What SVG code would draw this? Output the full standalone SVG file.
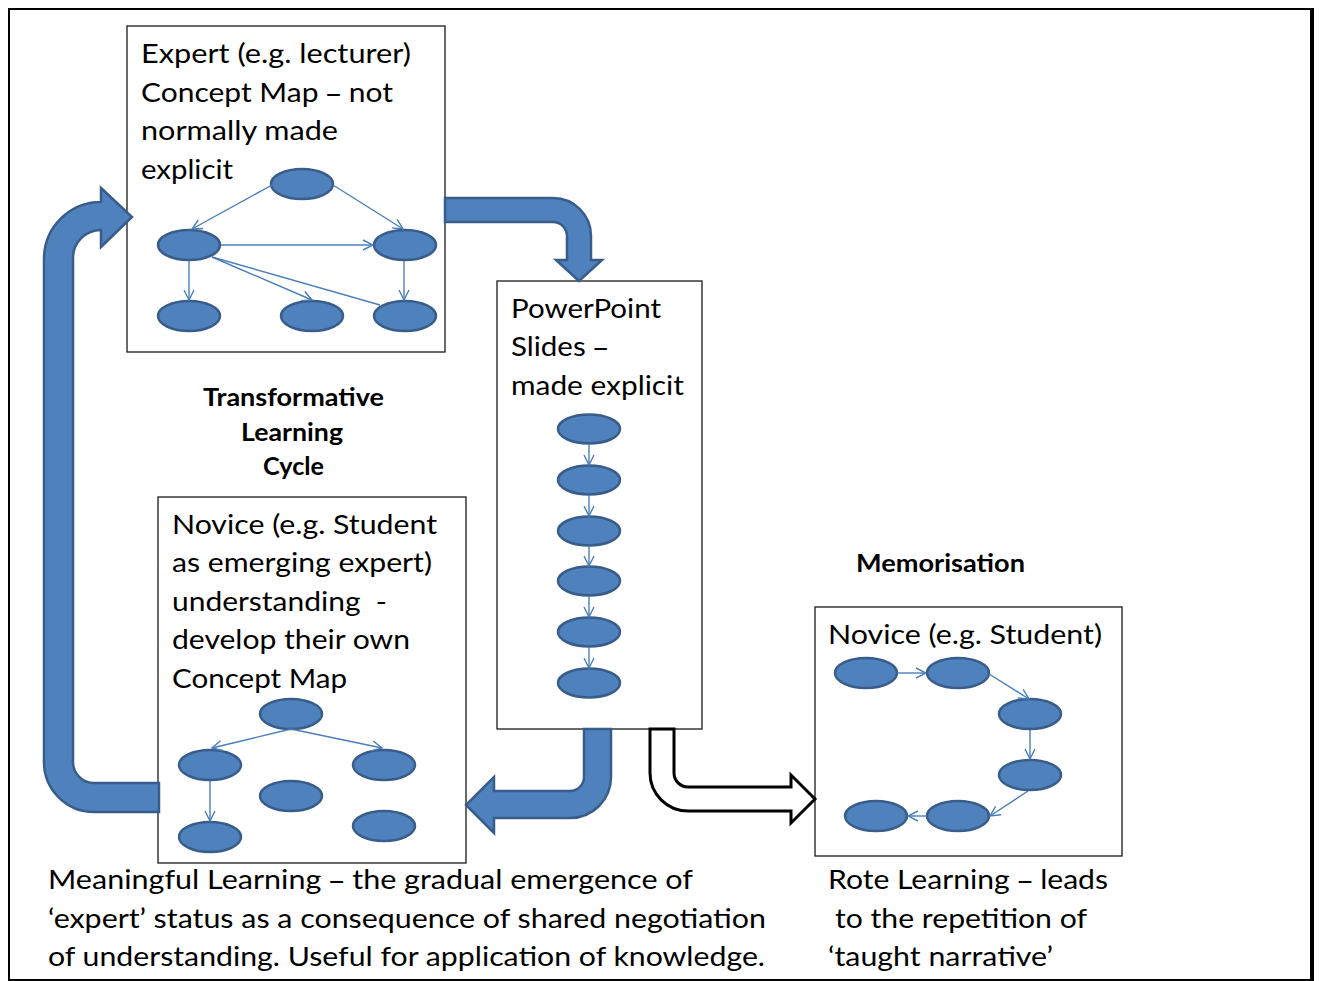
<svg xmlns="http://www.w3.org/2000/svg" width="1319" height="981" viewBox="0 0 1319 981">
<style>
.t{font-family:Lato,"Liberation Sans",sans-serif;font-size:27.5px;fill:#000;}
.b{font-family:Lato,"Liberation Sans",sans-serif;font-size:24px;font-weight:bold;fill:#000;}
.d{font-family:"Open Sans","Liberation Sans",sans-serif;}
.box{fill:#fff;stroke:#1a1a1a;stroke-width:1.3;}
.el{fill:#4F81BD;stroke:#385D8A;stroke-width:2.5;}
.ln{fill:none;stroke:#4A7EBB;stroke-width:1.4;marker-end:url(#v);}
.ln0{fill:none;stroke:#4A7EBB;stroke-width:1.4;}
.big{fill:#4F81BD;stroke:#385D8A;stroke-width:2.5;stroke-linejoin:miter;}
.wht{fill:#fff;stroke:#000;stroke-width:3;stroke-linejoin:miter;}
</style>
<defs>
<marker id="v" viewBox="0 0 12 12" refX="11" refY="6" markerWidth="12" markerHeight="12" markerUnits="userSpaceOnUse" orient="auto">
<path d="M1,1 L11,6 L1,11" fill="none" stroke="#4A7EBB" stroke-width="1.4"/>
</marker>
</defs>
<rect width="1319" height="981" fill="#fff"/>
<g id="frame" stroke="#000" fill="none">
<line x1="8" y1="9" x2="1314" y2="9" stroke-width="2"/>
<line x1="9" y1="8" x2="9" y2="981" stroke-width="2"/>
<line x1="1312" y1="8" x2="1312" y2="981" stroke-width="4"/>
<line x1="8" y1="980" x2="1314" y2="980" stroke-width="2"/>
</g>

<g id="expert">
<rect class="box" x="127" y="26" width="318" height="326"/>
<text class="t" x="141" y="63" textLength="270" lengthAdjust="spacingAndGlyphs">Expert (e.g. lecturer)</text>
<text class="t" x="141" y="102" textLength="252" lengthAdjust="spacingAndGlyphs">Concept Map <tspan class="d">–</tspan> not</text>
<text class="t" x="141" y="140" textLength="197" lengthAdjust="spacingAndGlyphs">normally made</text>
<text class="t" x="141" y="179" textLength="92" lengthAdjust="spacingAndGlyphs">explicit</text>
<ellipse class="el" cx="302" cy="184" rx="31" ry="15"/>
<ellipse class="el" cx="189" cy="245" rx="31" ry="15"/>
<ellipse class="el" cx="405" cy="245" rx="31" ry="15"/>
<ellipse class="el" cx="189" cy="316" rx="31" ry="15"/>
<ellipse class="el" cx="312" cy="316" rx="31" ry="15"/>
<ellipse class="el" cx="405" cy="316" rx="31" ry="15"/>
</g>

<g id="powerpoint">
<rect class="box" x="497" y="281" width="205" height="448"/>
<text class="t" x="511" y="318" textLength="150" lengthAdjust="spacingAndGlyphs">PowerPoint</text>
<text class="t" x="511" y="356" textLength="97" lengthAdjust="spacingAndGlyphs">Slides <tspan class="d">–</tspan></text>
<text class="t" x="511" y="395" textLength="173" lengthAdjust="spacingAndGlyphs">made explicit</text>
<ellipse class="el" cx="589" cy="429" rx="31" ry="14.5"/>
<ellipse class="el" cx="589" cy="480" rx="31" ry="14.5"/>
<ellipse class="el" cx="589" cy="531" rx="31" ry="14.5"/>
<ellipse class="el" cx="589" cy="581" rx="31" ry="14.5"/>
<ellipse class="el" cx="589" cy="632" rx="31" ry="14.5"/>
<ellipse class="el" cx="589" cy="683" rx="31" ry="14.5"/>
</g>

<g id="novice-emerging">
<rect class="box" x="158" y="497" width="308" height="366"/>
<text class="t" x="172" y="534" textLength="265" lengthAdjust="spacingAndGlyphs">Novice (e.g. Student</text>
<text class="t" x="172" y="572" textLength="260" lengthAdjust="spacingAndGlyphs">as emerging expert)</text>
<text class="t" x="172" y="611" textLength="215" lengthAdjust="spacingAndGlyphs" style="white-space:pre">understanding  -</text>
<text class="t" x="172" y="649" textLength="238" lengthAdjust="spacingAndGlyphs">develop their own</text>
<text class="t" x="172" y="688" textLength="175" lengthAdjust="spacingAndGlyphs">Concept Map</text>
<ellipse class="el" cx="291" cy="714" rx="31" ry="15"/>
<ellipse class="el" cx="210" cy="765" rx="31" ry="15"/>
<ellipse class="el" cx="384" cy="765" rx="31" ry="15"/>
<ellipse class="el" cx="291" cy="796" rx="31" ry="15"/>
<ellipse class="el" cx="210" cy="837" rx="31" ry="15"/>
<ellipse class="el" cx="384" cy="826" rx="31" ry="15"/>
</g>

<g id="novice-rote">
<rect class="box" x="815" y="607" width="307" height="249"/>
<text class="t" x="828" y="644" textLength="274" lengthAdjust="spacingAndGlyphs">Novice (e.g. Student)</text>
<ellipse class="el" cx="866" cy="673" rx="31" ry="15"/>
<ellipse class="el" cx="958" cy="673" rx="31" ry="15"/>
<ellipse class="el" cx="1030" cy="714" rx="31" ry="15"/>
<ellipse class="el" cx="1030" cy="775" rx="31" ry="15"/>
<ellipse class="el" cx="958" cy="816" rx="31" ry="15"/>
<ellipse class="el" cx="876" cy="816" rx="31" ry="15"/>
</g>

<g id="labels">
<text class="b" x="203" y="406" textLength="181" lengthAdjust="spacingAndGlyphs">Transformative</text>
<text class="b" x="241" y="441" textLength="102" lengthAdjust="spacingAndGlyphs">Learning</text>
<text class="b" x="263" y="475" textLength="61" lengthAdjust="spacingAndGlyphs">Cycle</text>
<text class="b" x="856" y="572" textLength="169" lengthAdjust="spacingAndGlyphs">Memorisation</text>
<text class="t" x="48" y="889" textLength="645" lengthAdjust="spacingAndGlyphs">Meaningful Learning <tspan class="d">–</tspan> the gradual emergence of</text>
<text class="t" x="48" y="928" textLength="718" lengthAdjust="spacingAndGlyphs">‘expert’ status as a consequence of shared negotiation</text>
<text class="t" x="48" y="966" textLength="717" lengthAdjust="spacingAndGlyphs">of understanding. Useful for application of knowledge.</text>
<text class="t" x="828" y="889" textLength="280" lengthAdjust="spacingAndGlyphs">Rote Learning <tspan class="d">–</tspan> leads</text>
<text class="t" x="835" y="928" textLength="252" lengthAdjust="spacingAndGlyphs">to the repetition of</text>
<text class="t" x="828" y="966" textLength="225" lengthAdjust="spacingAndGlyphs">‘taught narrative’</text>
</g>

<g id="connectors">
<path class="big" d="M159,783 L94,783 A21,21 0 0 1 73,762 L73,258 A28,28 0 0 1 101,230 L101,247 L132,217 L101,188 L101,202 A57,57 0 0 0 44,259 L44,762 A50,50 0 0 0 94,812 L159,812 Z"/>
<path class="big" d="M445,198 L553,198 A38,38 0 0 1 591,236 L591,260 L602,260 L579,281 L556,260 L567,260 L567,236 A14,14 0 0 0 553,222 L445,222 Z"/>
<path class="big" d="M584,729 L584,777 A14,14 0 0 1 570,791 L494,791 L494,777 L466,805 L494,833 L494,818 L570,818 A41,41 0 0 0 611,777 L611,729 Z"/>
<path class="wht" d="M650,729 L650,773 A38,38 0 0 0 688,811 L791,811 L791,823 L815,799 L791,775 L791,787 L688,787 A14,14 0 0 1 674,773 L674,729 Z"/>

<line class="ln" x1="272" y1="185" x2="192" y2="229"/>
<line class="ln" x1="333" y1="185" x2="403" y2="229"/>
<line class="ln" x1="221" y1="245" x2="373" y2="245"/>
<line class="ln" x1="189" y1="261" x2="189" y2="300"/>
<line class="ln" x1="404" y1="261" x2="404" y2="300"/>
<line class="ln" x1="212" y1="257" x2="312" y2="300"/>
<line class="ln0" x1="212" y1="257" x2="380" y2="305"/>

<line class="ln" x1="589" y1="444" x2="589" y2="465"/>
<line class="ln" x1="589" y1="495" x2="589" y2="516"/>
<line class="ln" x1="589" y1="546" x2="589" y2="566"/>
<line class="ln" x1="589" y1="596" x2="589" y2="617"/>
<line class="ln" x1="589" y1="647" x2="589" y2="668"/>

<line class="ln" x1="291" y1="729" x2="212" y2="748"/>
<line class="ln" x1="291" y1="729" x2="382" y2="748"/>
<line class="ln" x1="210" y1="781" x2="210" y2="821"/>

<line class="ln" x1="897" y1="673" x2="926" y2="673"/>
<line class="ln" x1="989" y1="674" x2="1029" y2="699"/>
<line class="ln" x1="1030" y1="730" x2="1030" y2="759"/>
<line class="ln" x1="1028" y1="791" x2="990" y2="816"/>
<line class="ln" x1="927" y1="816" x2="908" y2="816"/>
</g>
</svg>
